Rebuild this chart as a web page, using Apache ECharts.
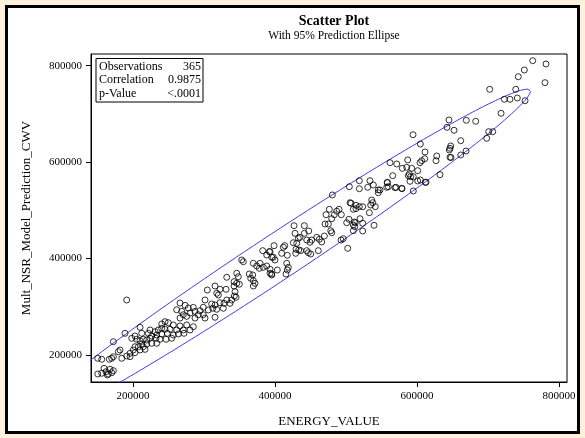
<!DOCTYPE html>
<html>
<head>
<meta charset="utf-8">
<script src="https://cdn.jsdelivr.net/npm/echarts@6/dist/echarts.min.js"></script>
<style>
html, body { margin: 0; padding: 0; background: #fdf1dd; }
#chart { width: 585px; height: 438px; }
</style>
</head>
<body>
<div id="chart"></div>
<script>
// ENERGY_VALUE vs Mult_NSR_Model_Prediction_CWV
var points = [
    [763000,810400],[781700,803600],[751200,791100],[742700,777200],[780300,764800],
    [702400,751100],[739100,751100],[723000,730400],[731000,730400],[741300,733000],
    [752200,727400],[718400,701300],[645100,687400],[669500,686800],[682700,684700],
    [642300,672300],[652200,666100],[701000,663200],[706700,663200],[698200,649500],
    [594400,656900],[661600,644500],[604700,637600],[647500,633500],[646500,628700],
    [645500,625200],[669100,623100],[661600,614800],[611300,621100],[627800,612800],
    [626800,603000],[646500,610100],[647900,609600],[610900,607200],[606600,603000],
    [604200,598900],[586900,604500],[562000,598900],[571500,596200],[579300,587200],
    [585500,589300],[592500,587200],[601000,582300],[565800,571900],[587800,571900],
    [591100,569800],[594800,569800],[589200,575400],[604700,563000],[612700,558200],
    [632400,574000],[558200,558200],[559600,549100],[569100,547000],[578500,545800],
    [594800,540200],[547900,542300],
    [504700,549100],[518800,561500],[533800,561500],[518800,544900],[530600,547800],
    [538500,552600],[545500,542300],[545500,536600],[557400,547800],[570500,547800],
    [578900,544900],[590200,560300],[601000,560900],[611700,558200],[558200,557400],
    [480800,531900],[505700,515900],[507100,514700],[514100,510500],[518800,507600],
    [523500,507600],[514100,503500],[510300,502200],[536200,521500],[537600,515900],
    [534800,511100],[541300,507600],[532900,495200],[476500,502200],[471900,491000],
    [486900,498100],[490200,502200],[483500,491000],[493400,491000],[479900,482700],
    [470500,471700],[475100,471700],[504200,481500],[501000,474400],[511700,475900],
    [510300,469700],[513100,474400],[519800,482700],[523500,473200],[512300,466100],
    [539500,469000],[510300,457800],[523500,457200],[478500,457800],[479900,453700],
    [426800,468200],[441300,468200],[428200,452400],[441300,452400],[447500,457200],
    [432900,442100],[435200,444100],[458800,444100],[451700,438500],[444700,438500],
    [449300,433800],[465800,434400],[469500,446800],[462400,440000],[496200,441200],
    [493000,438500],[398600,426700],[411700,423400],[413700,426700],[425800,432900],
    [430600,431700],[429600,419200],[433400,417800],[436200,416400],[429100,410900],
    [409400,410900],[417300,406800],[393000,414300],[397600,402700],[444700,416400],
    [446900,412200],[450300,409500],[461000,416400],[502400,421300],[416500,390200],
    [418700,381900],[417300,376300],[415500,368000],[403200,376300],[393000,377800],
    [395400,368000],
    [382700,416400],[392000,414300],[388300,407400],[395400,402700],[400000,397100],
    [353100,397100],[355400,393500],[369500,390200],[374200,384600],[378900,390200],
    [383500,381900],[388300,384600],[377900,379800],[393000,369500],[395400,366000],
    [363800,368000],[368600,366000],[365800,359100],[369500,354100],[371800,348700],
    [369500,343100],[332000,361200],[346100,369500],[348300,362400],[342300,352100],
    [346100,348700],[349700,346700],[342300,343100],[315500,343100],[304700,334800],
    [317900,328000],[320200,324500],[322500,336300],[331000,336300],[343700,331300],
    [342700,322400],[345100,319700],[339000,314100],[332000,314100],[328200,307200],
    [336600,307200],[322500,308500],[301400,314100],[310800,305800],[315500,303700],
    [312300,296900],[317900,294800],[306100,293400],[299000,299000],[294400,291900],
    [315500,278200],[327200,296900],[266200,307700],[273300,303000],[277900,297400],
    [284900,298800],[287300,290500],[292000,283500],[299000,283500],[301400,276600],
    [280300,287000],[287300,276600],[275600,280100],[268600,290500],[261500,293800],
    [270800,283500],[266200,276600],
    [245100,269100],[249700,267000],[240400,264300],[256800,262300],[266200,260200],
    [275600,262300],[285000,258700],[280300,251900],[270800,251900],[261500,251900],
    [252100,253300],[245100,253300],[240400,255400],[235600,251900],[231000,248400],
    [224000,251900],[221600,245000],[226300,239400],[233400,241500],[240400,243600],
    [248300,245000],[256800,241500],[263800,243600],[271800,245000],[232400,234700],
    [238000,232600],[246500,232600],[254500,234700],[224000,234700],[219300,231100],
    [214500,232600],[209900,229700],[212300,222800],[219300,222800],[226300,224300],
    [233400,224300],[207500,217200],[214500,217200],[202800,217200],[200400,210400],
    [195800,203500],[202800,204800],[209900,210400],[216900,211700],
    [198200,234700],[202800,239400],[209900,257500],[212300,245000],[205200,232600],
    [188700,245000],[172300,227600],[179300,206900],[181700,210400],[172300,196500],
    [170000,193200],[166600,191100],[155900,191100],[150300,193200],[191100,314100],
    [191100,197900],[195800,196500],[184100,193200],
    [150300,160600],[155900,162100],[159200,172400],[165200,160600],[162000,165400],
    [167600,170400],[170000,163300],[172300,167500],[163800,158600]
];
var xTicks = [200000, 400000, 600000, 800000];
var yTicks = [200000, 400000, 600000, 800000];
var statNames = ['Observations', 'Correlation', 'p-Value'];
var statValues = ['365', '0.9875', '<.0001'];

// sample statistics behind the ellipse (n and r from the inset, the rest)
var nObs = 365;
var corr = 0.9875;
var meanXY = [395000, 395000];
var sdXY = [148000, 144600];

var FONT = 'Liberation Serif';

// 95% prediction ellipse (bivariate normal, F based radius)
function predictionEllipse(mean, sd, r, n, level) {
    var m = n - 2;
    var f = m / 2 * (Math.pow(1 - level, -2 / m) - 1); // F(2, m) quantile
    var c = Math.sqrt(2 * (n - 1) * (n + 1) / (n * m) * f);
    var s = Math.sqrt(1 - r * r);
    var out = [];
    for (var i = 0; i <= 360; i++) {
        var t = i * Math.PI / 180;
        out.push([mean[0] + c * sd[0] * Math.cos(t),
                  mean[1] + c * sd[1] * (r * Math.cos(t) + s * Math.sin(t))]);
    }
    return out;
}

var chart = echarts.init(document.getElementById('chart'));

// stats inset, top left of the plot
var statBox = [{
    type: 'rect', shape: {x: 96, y: 58.5, width: 107, height: 43.5},
    style: {fill: '#fff', stroke: '#000', lineWidth: 1}
}];
statNames.forEach(function (s, i) {
    statBox.push({type: 'text', x: 99, y: 66.5 + i * 13.5,
        style: {text: s, font: '12px "' + FONT + '"', fill: '#000', verticalAlign: 'middle'}});
    statBox.push({type: 'text', x: 201, y: 66.5 + i * 13.5,
        style: {text: statValues[i], font: '12px "' + FONT + '"', fill: '#000', align: 'right', verticalAlign: 'middle'}});
});

var plain = function (v) { return String(v); };

var option = {
    backgroundColor: '#fdf1dd',
    animation: false,
    title: {
        text: 'Scatter Plot',
        subtext: 'With 95% Prediction Ellipse',
        left: 329,
        textAlign: 'center',
        top: 9,
        itemGap: 2,
        textStyle: {fontFamily: FONT, fontSize: 14, fontWeight: 'bold', color: '#000'},
        subtextStyle: {fontFamily: FONT, fontSize: 11.5, color: '#000'}
    },
    grid: {
        left: 91, top: 54, width: 476, height: 328,
        show: true, borderColor: '#000', borderWidth: 1, backgroundColor: '#fff'
    },
    xAxis: {
        type: 'value',
        min: 140800, max: 811300,
        name: 'ENERGY_VALUE', nameLocation: 'middle', nameGap: 33,
        nameTextStyle: {fontFamily: FONT, fontSize: 13, color: '#000'},
        axisLine: {show: true, lineStyle: {color: '#000'}},
        axisTick: {show: true, customValues: xTicks, length: 5, lineStyle: {color: '#000'}},
        axisLabel: {customValues: xTicks, formatter: plain, fontFamily: FONT, fontSize: 11, color: '#000', margin: 9},
        splitLine: {show: false}
    },
    yAxis: {
        type: 'value',
        min: 144000, max: 824300,
        name: 'Mult_NSR_Model_Prediction_CWV', nameLocation: 'middle', nameGap: 58, nameRotate: 90,
        nameTextStyle: {fontFamily: FONT, fontSize: 13, color: '#000'},
        axisLine: {show: true, lineStyle: {color: '#000'}},
        axisTick: {show: true, customValues: yTicks, length: 5, lineStyle: {color: '#000'}},
        axisLabel: {customValues: yTicks, formatter: plain, fontFamily: FONT, fontSize: 11, color: '#000', margin: 9},
        splitLine: {show: false}
    },
    graphic: [{
        type: 'rect', z: -10,
        shape: {x: 6.5, y: 6.5, width: 572, height: 426},
        style: {fill: '#fff', stroke: '#000', lineWidth: 3}
    }, {
        type: 'group', z: 100, children: statBox
    }],
    series: [{
        type: 'line',
        data: predictionEllipse(meanXY, sdXY, corr, nObs, 0.95),
        showSymbol: false,
        silent: true,
        clip: true,
        lineStyle: {color: '#3c3cf0', width: 1},
        z: 3
    }, {
        type: 'scatter',
        data: points,
        symbol: 'circle',
        symbolSize: 6,
        itemStyle: {color: 'rgba(0,0,0,0)', borderColor: '#000', borderWidth: 1},
        z: 4
    }]
};
chart.setOption(option);
</script>
</body>
</html>
